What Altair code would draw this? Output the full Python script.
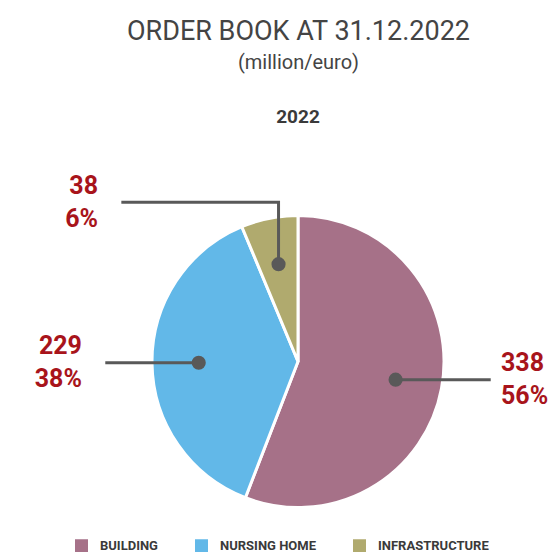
import math
import altair as alt
import pandas as pd

# ---- data ----
categories = ["BUILDING", "NURSING HOME", "INFRASTRUCTURE"]
values = [338, 229, 38]
year = "2022"
title_text = "ORDER BOOK AT 31.12.2022"
subtitle_text = "(million/euro)"

# ---- style / layout ----
colors = ["#a67188", "#62b8e8", "#b0aa6e"]
R_PX = 146            # pie radius in pixels (1 data unit)
PAD_TOP = 70
W, H = 541, 474       # plot area
CX_PX, CY_PX = 290, 283.5   # pie centre inside plot area
DOT_R = 0.68
ELBOW_Y = 1.09
END_X_TOP = 1.21
END_X_SIDE = 1.32
LABEL_GAP_LEFT = 0.16
LABEL_GAP_RIGHT = 0.07
LINE_H = 33

x_dom = [-CX_PX / R_PX, (W - CX_PX) / R_PX]
y_dom = [-(H - CY_PX) / R_PX, CY_PX / R_PX]
xs = alt.Scale(domain=x_dom, nice=False, zero=False)
ys = alt.Scale(domain=y_dom, nice=False, zero=False)

total = sum(values)
pie_rows, line_rows, dot_rows, label_rows = [], [], [], []
start = 0.0
for i, (c, v) in enumerate(zip(categories, values)):
    share = v / total
    mid = start + share * math.pi
    start += share * 2 * math.pi
    dx, dy = DOT_R * math.sin(mid), DOT_R * math.cos(mid)
    side = -1 if math.sin(mid) < 0 else 1
    pie_rows.append({"category": c, "value": v, "idx": i, "cx": 0.0, "cy": 0.0})
    dot_rows.append({"category": c, "x": dx, "y": dy})
    if math.cos(mid) > 0.85:
        pts = [(dx, dy), (dx, ELBOW_Y), (side * END_X_TOP, ELBOW_Y)]
    else:
        pts = [(dx, dy), (side * END_X_SIDE, dy)]
    for k, (px, py) in enumerate(pts):
        line_rows.append({"category": c, "seq": k, "x": px, "y": py})
    ex, ey = pts[-1]
    gap = LABEL_GAP_LEFT if side < 0 else LABEL_GAP_RIGHT
    label_rows.append({
        "category": c,
        "x": ex + side * gap,
        "y": ey,
        "side": "left" if side < 0 else "right",
        "text": f"{v}\n{round(share * 100)}%",
    })

pie_df = pd.DataFrame(pie_rows)
line_df = pd.DataFrame(line_rows)
dot_df = pd.DataFrame(dot_rows)
label_df = pd.DataFrame(label_rows)
year_df = pd.DataFrame([{"text": year, "x": 0.0, "y": 1.675}])

X = lambda f: alt.X(f, scale=xs, axis=None)
Y = lambda f: alt.Y(f, scale=ys, axis=None)

pie = alt.Chart(pie_df).mark_arc(radius=R_PX, stroke="white", strokeWidth=3, opacity=1).encode(
    theta=alt.Theta("value:Q", stack=True),
    order=alt.Order("idx:Q"),
    x=X("cx:Q"),
    y=Y("cy:Q"),
    color=alt.Color(
        "category:N",
        scale=alt.Scale(domain=categories, range=colors),
        legend=alt.Legend(
            orient="none", legendX=67, legendY=461, direction="horizontal",
            symbolType="square", symbolSize=169, symbolStrokeWidth=0, symbolOpacity=1,
            labelFont="Roboto", labelFontSize=13, labelFontWeight="bold",
            labelColor="#3a3a3a", columnPadding=37, labelOffset=12, title=None, padding=0,
        ),
    ),
)

lines = alt.Chart(line_df).mark_line(color="#595959", strokeWidth=3).encode(
    x=X("x:Q"), y=Y("y:Q"), detail="category:N", order="seq:Q"
)
dots = alt.Chart(dot_df).mark_circle(size=200, color="#595959", opacity=1).encode(
    x=X("x:Q"), y=Y("y:Q")
)
lab_common = dict(baseline="middle", font="Roboto", fontSize=25, fontWeight="bold",
                  color="#a8141b", lineBreak="\n", lineHeight=LINE_H, dy=-LINE_H / 2)
labels_l = alt.Chart(label_df).transform_filter("datum.side == 'left'").mark_text(
    align="right", **lab_common).encode(x=X("x:Q"), y=Y("y:Q"), text="text:N")
labels_r = alt.Chart(label_df).transform_filter("datum.side == 'right'").mark_text(
    align="left", **lab_common).encode(x=X("x:Q"), y=Y("y:Q"), text="text:N")
year_t = alt.Chart(year_df).mark_text(
    font="Roboto", fontSize=19, fontWeight="bold", color="#3a3a3a", baseline="middle"
).encode(x=X("x:Q"), y=Y("y:Q"), text="text:N")

chart = alt.layer(pie, lines, dots, labels_l, labels_r, year_t).properties(
    width=W, height=H,
    autosize=alt.AutoSizeParams(type="none"),
    padding={"top": PAD_TOP, "left": 0, "right": 0, "bottom": 0},
    title=alt.TitleParams(
        text=title_text, subtitle=subtitle_text, anchor="middle", dx=20,
        font="Roboto", fontSize=27, fontWeight="normal", color="#444444",
        subtitleFont="Roboto", subtitleFontSize=20, subtitleColor="#444444",
        subtitlePadding=7, offset=4,
    ),
).configure_view(stroke=None)

chart.save("out.html", embed_options={"renderer": "svg", "actions": False})
